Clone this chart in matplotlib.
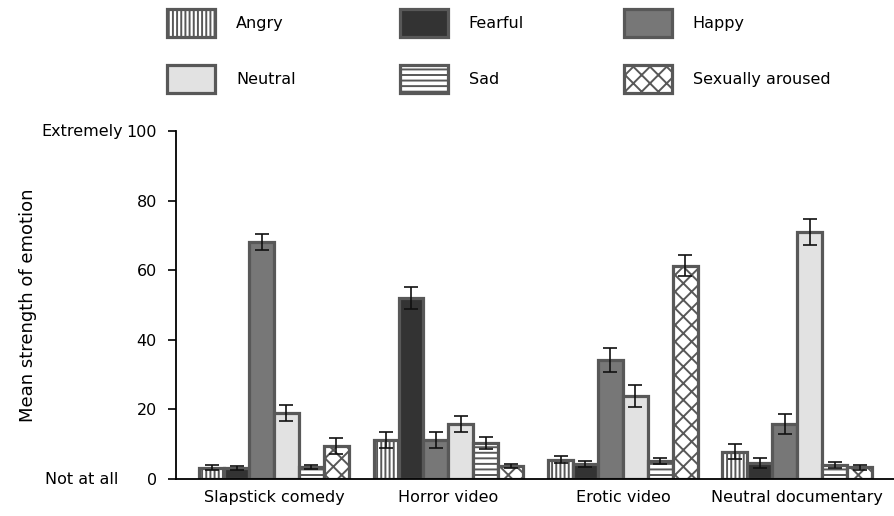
import numpy as np
import matplotlib
matplotlib.use("Agg")
import matplotlib.pyplot as plt
from matplotlib.patches import Patch

categories = ["Slapstick comedy", "Horror video", "Erotic video", "Neutral documentary"]
emotions = ["Angry", "Fearful", "Happy", "Neutral", "Sad", "Sexually aroused"]
angry = [3.3, 11.3, 5.6, 7.9]
angry_err = [0.6, 2.3, 1.0, 2.2]
fearful = [3.2, 52.0, 4.4, 4.5]
fearful_err = [0.6, 3.2, 0.9, 1.4]
happy = [68.0, 11.3, 34.2, 15.8]
happy_err = [2.3, 2.3, 3.5, 3.0]
neutral = [19.0, 15.8, 23.9, 71.0]
neutral_err = [2.4, 2.3, 3.2, 3.8]
sad = [3.4, 10.3, 5.2, 4.1]
sad_err = [0.6, 1.7, 0.9, 0.8]
sexual = [9.5, 3.7, 61.3, 3.4]
sexual_err = [2.2, 0.6, 3.0, 0.7]

values = [angry, fearful, happy, neutral, sad, sexual]
errors = [angry_err, fearful_err, happy_err, neutral_err, sad_err, sexual_err]
faces = ["white", "#333333", "#777777", "#e2e2e2", "white", "white"]
hatches = ["||||", None, None, None, "---", "xx"]
edge = "#585858"

plt.rcParams["font.family"] = ["DejaVu Sans"]
plt.rcParams["hatch.linewidth"] = 1.4
plt.rcParams["hatch.color"] = edge

fig = plt.figure(figsize=(8.95, 5.16), dpi=100)
ax = fig.add_axes([0.197, 0.0717, 0.803, 0.6743])

x = np.arange(len(categories))
w = 0.143
handles = []
for i, (vals, errs) in enumerate(zip(values, errors)):
    pos = x + (i - 2.5) * w
    ax.bar(pos, vals, width=w, color=faces[i], edgecolor=edge, linewidth=2.3,
           hatch=hatches[i], zorder=2)
    ax.errorbar(pos, vals, yerr=errs, fmt="none", ecolor="#111111",
                elinewidth=1.2, capsize=4.7, capthick=1.2, zorder=3)
    handles.append(Patch(facecolor=faces[i], edgecolor=edge, linewidth=2.3,
                         hatch=hatches[i], label=emotions[i]))

ax.set_xlim(-0.56, 3.56)
ax.set_ylim(0, 100)
ax.set_xticks(x)
ax.set_xticklabels(categories, fontsize=11.5)
ax.tick_params(axis="x", length=0, pad=8)
ax.set_yticks([0, 20, 40, 60, 80, 100])
ax.tick_params(axis="y", direction="out", length=6, width=1.2, labelsize=11.5, pad=8)
for s in ["top", "right"]:
    ax.spines[s].set_visible(False)
ax.spines["left"].set_linewidth(1.3)
ax.spines["bottom"].set_linewidth(1.3)
ax.set_ylabel("Mean strength of emotion", fontsize=13, labelpad=64)

ax.text(-0.074, 1.0, "Extremely", transform=ax.transAxes, ha="right", va="center", fontsize=11.5)
ax.text(-0.080, 0.0, "Not at all", transform=ax.transAxes, ha="right", va="center", fontsize=11.5)

# legend: three columns, each a separate legend
col_x = [0.180, 0.440, 0.690]
for c in range(3):
    fig.legend(handles=[handles[c], handles[c + 3]], loc="upper left",
               bbox_to_anchor=(col_x[c], 0.995), frameon=False,
               fontsize=11.5, handlelength=3.0, handleheight=2.3,
               handletextpad=1.3, labelspacing=1.75, borderaxespad=0)

fig.savefig("out.png", dpi=100)
